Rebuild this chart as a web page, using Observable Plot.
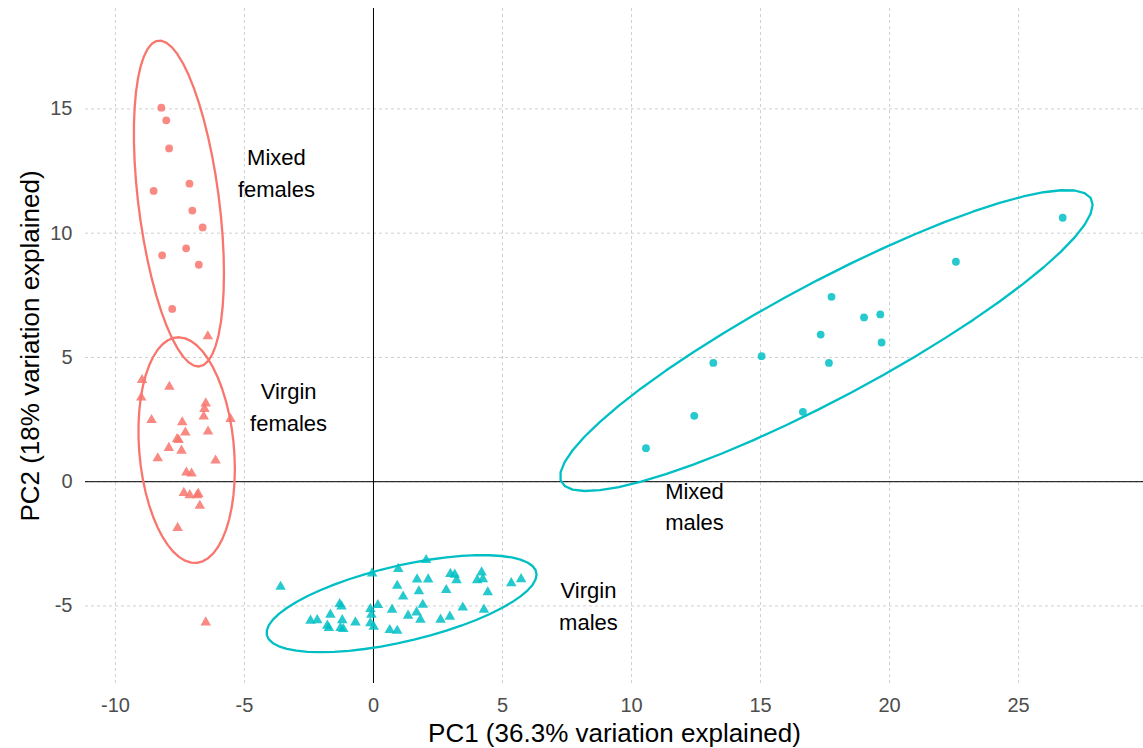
<!DOCTYPE html>
<html><head><meta charset="utf-8">
<script src="https://cdn.jsdelivr.net/npm/d3@7"></script>
<script src="https://cdn.jsdelivr.net/npm/@observablehq/plot@0.6"></script>
<style>body{margin:0;background:#fff;} svg{font-family:"Liberation Sans",Arial,sans-serif;}</style>
</head><body><div id="chart"></div>
<script>
// ---- data ----
const mixedFemalesPC1 = [-8.22,-8.03,-7.92,-8.52,-7.13,-7.02,-6.62,-8.19,-7.26,-6.77,-7.80];
const mixedFemalesPC2 = [15.05,14.54,13.41,11.70,11.99,10.91,10.23,9.11,9.39,8.73,6.95];

const virginFemalesPC1 = [-6.42,-8.97,-7.91,-9.00,-6.50,-6.55,-6.58,-5.54,-8.60,-7.41,-7.29,-6.41,-7.61,-7.55,-7.93,-7.44,-8.36,-6.12,-7.25,-7.05,-7.35,-7.12,-6.83,-6.79,-6.73,-7.59,-6.50];
const virginFemalesPC2 = [5.85,4.09,3.82,3.39,3.15,2.93,2.62,2.52,2.48,2.39,1.98,2.02,1.72,1.68,1.36,1.25,0.94,0.85,0.37,0.33,-0.45,-0.54,-0.54,-0.49,-0.97,-1.86,-5.66];

const mixedMalesPC1 = [10.56,12.43,13.17,15.04,16.64,17.33,17.65,17.75,19.01,19.64,19.69,22.57,26.71];
const mixedMalesPC2 = [1.35,2.65,4.78,5.05,2.81,5.92,4.78,7.44,6.61,6.73,5.60,8.85,10.62];

const virginMalesPC1 = [-3.60,-2.44,-2.18,-1.67,-1.79,-1.73,-1.31,-1.24,-1.21,-1.28,-1.17,-0.70,-0.05,-0.12,-0.08,-0.12,0.01,0.17,0.72,0.63,0.92,0.96,0.92,1.15,1.34,1.69,1.76,1.67,1.82,1.91,2.04,2.12,2.60,2.82,2.96,2.98,3.15,3.22,3.46,4.02,4.19,4.24,4.43,4.28,5.34,5.72];
const virginMalesPC2 = [-4.23,-5.59,-5.57,-5.35,-5.79,-5.89,-4.92,-5.02,-5.57,-5.89,-5.93,-5.66,-3.69,-5.12,-5.35,-5.69,-5.84,-4.96,-5.15,-5.97,-6.00,-3.51,-4.19,-4.62,-5.39,-3.93,-4.41,-5.26,-5.55,-4.95,-3.15,-3.93,-5.55,-4.36,-5.43,-3.71,-3.74,-3.96,-5.06,-3.96,-3.65,-3.92,-4.45,-5.15,-4.08,-3.92];

const groupNames = ["Mixed females", "Virgin females", "Mixed males", "Virgin males"];
const labelText = ["Mixed\nfemales", "Virgin\nfemales", "Mixed\nmales", "Virgin\nmales"];
const labelX = [-3.76, -3.29, 12.44, 8.33];
const labelY = [12.51, 3.08, -0.91, -4.91];

const xTicks = [-10, -5, 0, 5, 10, 15, 20, 25];
const yTicks = [-5, 0, 5, 10, 15];
const xTitle = "PC1 (36.3% variation explained)";
const yTitle = "PC2 (18% variation explained)";

// ---- styling ----
const femaleColor = "#F8766D";
const maleColor = "#00BFC4";
const groups = [
  {name: groupNames[0], xs: mixedFemalesPC1, ys: mixedFemalesPC2, color: femaleColor, symbol: "circle", r: 3.9},
  {name: groupNames[1], xs: virginFemalesPC1, ys: virginFemalesPC2, color: femaleColor, symbol: "triangle", r: 3.9},
  {name: groupNames[2], xs: mixedMalesPC1, ys: mixedMalesPC2, color: maleColor, symbol: "circle", r: 3.9},
  {name: groupNames[3], xs: virginMalesPC1, ys: virginMalesPC2, color: maleColor, symbol: "triangle", r: 3.9}
];
groups.forEach(g => g.rows = g.xs.map((x, i) => ({group: g.name, pc1: x, pc2: g.ys[i]})));

// ---- stat_ellipse (type "t", level 0.95) as in ggplot2: MASS::cov.trob ----
function covTrob(pts, nu = 5, maxit = 25, tol = 0.01) {
  const n = pts.length, p = 2;
  let loc = [d3.mean(pts, d => d[0]), d3.mean(pts, d => d[1])];
  let w = pts.map(() => 1);
  let X;
  for (let iter = 0; iter < maxit; iter++) {
    const w0 = w.slice();
    X = pts.map(d => [d[0] - loc[0], d[1] - loc[1]]);
    const sw = d3.sum(w);
    let a = 0, b = 0, c = 0;
    X.forEach((v, i) => { const k = w[i] / sw; a += k * v[0] * v[0]; b += k * v[0] * v[1]; c += k * v[1] * v[1]; });
    const det = a * c - b * b;
    const Q = X.map(v => (c * v[0] * v[0] - 2 * b * v[0] * v[1] + a * v[1] * v[1]) / det);
    w = Q.map(q => (nu + p) / (nu + q));
    const sw2 = d3.sum(w);
    loc = [d3.sum(pts, (d, i) => w[i] * d[0]) / sw2, d3.sum(pts, (d, i) => w[i] * d[1]) / sw2];
    if (w.every((v, i) => Math.abs(v - w0[i]) < tol)) break;
  }
  let a = 0, b = 0, c = 0;
  X.forEach((v, i) => { a += w[i] * v[0] * v[0]; b += w[i] * v[0] * v[1]; c += w[i] * v[1] * v[1]; });
  return {center: loc, cov: [[a / n, b / n], [b / n, c / n]]};
}
function ellipse(rows, name) {
  const pts = rows.map(d => [d.pc1, d.pc2]);
  const {center, cov} = covTrob(pts);
  const dfd = pts.length - 1;
  const qf = (dfd / 2) * (Math.pow(0.05, -2 / dfd) - 1);
  const radius = Math.sqrt(2 * qf);
  const r11 = Math.sqrt(cov[0][0]), r12 = cov[0][1] / r11, r22 = Math.sqrt(cov[1][1] - r12 * r12);
  const segs = 51;
  return d3.range(segs + 1).map(k => {
    const t = k * 2 * Math.PI / segs, co = Math.cos(t), si = Math.sin(t);
    return {group: name, pc1: center[0] + radius * co * r11, pc2: center[1] + radius * (co * r12 + si * r22)};
  });
}

const labels = labelText.map((t, i) => ({text: t, x: labelX[i], y: labelY[i]}));

const marks = [
  Plot.gridX(xTicks, {stroke: "#cfcfcf", strokeOpacity: 1, strokeDasharray: "3,3", strokeWidth: 1}),
  Plot.gridY(yTicks, {stroke: "#cfcfcf", strokeOpacity: 1, strokeDasharray: "3,3", strokeWidth: 1}),
  Plot.ruleX([0], {stroke: "#000", strokeWidth: 1}),
  Plot.ruleY([0], {stroke: "#000", strokeWidth: 1}),
  Plot.axisX(xTicks, {tickSize: 0, tickPadding: 14, fontSize: 20, fill: "#4d4d4d", label: null, tickFormat: d => String(d)}),
  Plot.axisY(yTicks, {tickSize: 0, tickPadding: 13, fontSize: 20, fill: "#4d4d4d", label: null, tickFormat: d => String(d)})
];
groups.forEach(g => {
  marks.push(Plot.dot(g.rows, {x: "pc1", y: "pc2", fill: g.color, fillOpacity: 0.85, stroke: "none", symbol: g.symbol, r: g.r}));
});
groups.forEach(g => {
  marks.push(Plot.line(ellipse(g.rows, g.name), {x: "pc1", y: "pc2", stroke: g.color, strokeWidth: 2.3, curve: "linear"}));
});
marks.push(Plot.text(labels, {x: "x", y: "y", text: "text", fontSize: 22, lineHeight: 1.45, fill: "#000"}));
marks.push(Plot.text([xTitle], {frameAnchor: "bottom", dy: 50, lineAnchor: "middle", textAnchor: "middle", text: d => d, fontSize: 26, fill: "#000"}));
marks.push(Plot.text([yTitle], {frameAnchor: "left", dx: -55, rotate: -90, lineAnchor: "middle", textAnchor: "middle", text: d => d, fontSize: 26, fill: "#000"}));

const chart = Plot.plot({
  width: 1143, height: 748,
  marginLeft: 85, marginRight: 0, marginTop: 8, marginBottom: 65,
  x: {domain: [-11.16, 29.84]},
  y: {domain: [-8.12, 19.04]},
  style: {fontFamily: '"Liberation Sans", Arial, sans-serif', background: "#fff"},
  marks
});
document.getElementById("chart").appendChild(chart);
</script>
</body></html>
